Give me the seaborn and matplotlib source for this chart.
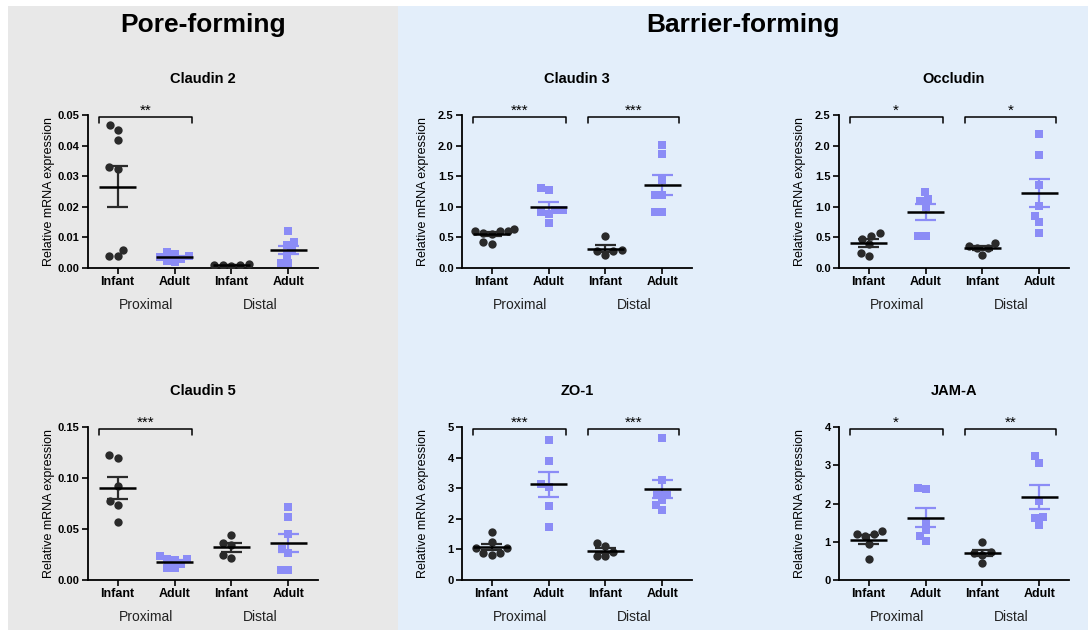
import numpy as np
import pandas as pd
import matplotlib
matplotlib.use("Agg")
import matplotlib.pyplot as plt
from matplotlib.patches import Rectangle
import seaborn as sns

sns.set_theme(style="ticks")
plt.rcParams['font.family'] = ['Liberation Sans', 'DejaVu Sans']
plt.rcParams['text.color'] = 'black'
plt.rcParams['axes.labelcolor'] = 'black'
plt.rcParams['xtick.color'] = 'black'
plt.rcParams['ytick.color'] = 'black'

# ---------------- text ----------------
section_titles = ["Pore-forming", "Barrier-forming"]
panel_titles = ["Claudin 2", "Claudin 3", "Occludin", "Claudin 5", "ZO-1", "JAM-A"]
age_labels = ["Infant", "Adult", "Infant", "Adult"]
region_labels = ["Proximal", "Distal"]
y_label = "Relative mRNA expression"

# ---------------- data (relative mRNA expression) ----------------
cldn2_prox_infant = [0.0451, 0.0466, 0.0417, 0.0331, 0.0325, 0.0060, 0.0039, 0.0039]
cldn2_prox_adult = [0.0052, 0.0046, 0.0040, 0.0035, 0.0030, 0.0022, 0.0018]
cldn2_dist_infant = [0.0009, 0.0011, 0.0010, 0.0012, 0.0008]
cldn2_dist_adult = [0.0120, 0.0085, 0.0076, 0.0058, 0.0041, 0.0017, 0.0017]

cldn3_prox_infant = [0.64, 0.60, 0.58, 0.60, 0.61, 0.40, 0.42, 0.55]
cldn3_prox_adult = [1.30, 1.27, 0.95, 0.92, 0.89, 0.74, 0.95]
cldn3_dist_infant = [0.52, 0.22, 0.30, 0.28, 0.27]
cldn3_dist_adult = [2.01, 1.87, 1.44, 1.20, 1.19, 0.91, 0.92]

ocln_prox_infant = [0.53, 0.48, 0.57, 0.19, 0.25, 0.40]
ocln_prox_adult = [1.245, 1.13, 1.09, 1.00, 0.52, 0.52]
ocln_dist_infant = [0.33, 0.33, 0.41, 0.36, 0.22]
ocln_dist_adult = [2.195, 1.85, 1.354, 1.015, 0.852, 0.753, 0.573]

cldn5_prox_infant = [0.1198, 0.1227, 0.0925, 0.0778, 0.0732, 0.0571]
cldn5_prox_adult = [0.020, 0.021, 0.021, 0.024, 0.012, 0.012, 0.016]
cldn5_dist_infant = [0.044, 0.0341, 0.036, 0.0213, 0.0246]
cldn5_dist_adult = [0.072, 0.062, 0.045, 0.030, 0.026, 0.0095, 0.0095]

zo1_prox_infant = [1.56, 0.87, 1.05, 1.23, 1.05, 0.82, 0.87]
zo1_prox_adult = [4.56, 3.90, 3.04, 3.13, 2.41, 1.73]
zo1_dist_infant = [1.21, 1.11, 0.79, 0.90, 0.79]
zo1_dist_adult = [4.64, 3.26, 2.79, 2.77, 2.60, 2.30, 2.44]

jama_prox_infant = [1.21, 1.15, 1.21, 1.27, 0.54, 0.95]
jama_prox_adult = [2.41, 2.37, 1.52, 1.30, 1.14, 1.01]
jama_dist_infant = [1.00, 0.73, 0.70, 0.66, 0.44]
jama_dist_adult = [3.23, 3.06, 2.06, 1.65, 1.61, 1.45]

y_max = [0.05, 2.5, 2.5, 0.15, 5, 4]
y_step = [0.01, 0.5, 0.5, 0.05, 1, 1]
y_fmt = ["%.2f", "%.1f", "%.1f", "%.2f", "%d", "%d"]
signif_prox = ["**", "***", "*", "***", "***", "*"]
signif_dist = ["", "***", "*", "", "***", "**"]

panels = [
    [cldn2_prox_infant, cldn2_prox_adult, cldn2_dist_infant, cldn2_dist_adult],
    [cldn3_prox_infant, cldn3_prox_adult, cldn3_dist_infant, cldn3_dist_adult],
    [ocln_prox_infant, ocln_prox_adult, ocln_dist_infant, ocln_dist_adult],
    [cldn5_prox_infant, cldn5_prox_adult, cldn5_dist_infant, cldn5_dist_adult],
    [zo1_prox_infant, zo1_prox_adult, zo1_dist_infant, zo1_dist_adult],
    [jama_prox_infant, jama_prox_adult, jama_dist_infant, jama_dist_adult],
]

DARK = "#2a2a2a"
BLUE = "#8b8cf6"
GREY_BG = "#e8e8e8"
BLUE_BG = "#e3eefa"

W, H = 1088, 639
fig = plt.figure(figsize=(W / 100, H / 100), dpi=100)
fig.patch.set_facecolor("white")

# background panels
fig.add_artist(Rectangle((8 / W, 1 - 630 / H), (398 - 8) / W, (630 - 6) / H,
                         transform=fig.transFigure, facecolor=GREY_BG, edgecolor="none", zorder=0))
fig.add_artist(Rectangle((398 / W, 1 - 630 / H), (1088 - 398) / W, (630 - 6) / H,
                         transform=fig.transFigure, facecolor=BLUE_BG, edgecolor="none", zorder=0))

fig.text(203 / W, 1 - 25 / H, section_titles[0], ha="center", va="center",
         fontsize=19, fontweight="bold", color="black")
fig.text(743 / W, 1 - 25 / H, section_titles[1], ha="center", va="center",
         fontsize=19, fontweight="bold", color="black")

col_left = [88, 462, 839]
col_width = 230
row_top = [115, 427]
row_height = 153

keys = ["P-Infant", "P-Adult", "D-Infant", "D-Adult"]

for idx in range(6):
    r, c = divmod(idx, 3)
    left = col_left[c]
    top = row_top[r]
    ax = fig.add_axes([left / W, 1 - (top + row_height) / H, col_width / W, row_height / H])
    ax.set_facecolor("none")
    groups = panels[idx]
    rows = []
    for k, vals in zip(keys, groups):
        age = "Infant" if "Infant" in k else "Adult"
        for v in vals:
            rows.append((k, age, v))
    df = pd.DataFrame(rows, columns=["group", "age", "value"])

    sns.swarmplot(data=df[df.age == "Infant"], x="group", y="value", order=keys,
                  color=DARK, marker="o", size=6.0, ax=ax, zorder=3)
    sns.swarmplot(data=df[df.age == "Adult"], x="group", y="value", order=keys,
                  color=BLUE, marker="s", size=5.4, ax=ax, zorder=3)

    for i, vals in enumerate(groups):
        v = np.asarray(vals, dtype=float)
        m = v.mean()
        se = v.std(ddof=1) / np.sqrt(len(v))
        ec = DARK if i % 2 == 0 else BLUE
        ax.vlines(i, m - se, m + se, color=ec, lw=1.6, zorder=4)
        ax.hlines([m - se, m + se], i - 0.18, i + 0.18, color=ec, lw=1.6, zorder=4)
        ax.hlines(m, i - 0.32, i + 0.32, color="black", lw=1.8, zorder=5)

    ymax = y_max[idx]
    ax.set_ylim(0, ymax)
    ax.set_xlim(-0.52, 3.52)
    ticks = np.arange(0, ymax + y_step[idx] / 2, y_step[idx])
    ax.set_yticks(ticks)
    ax.set_yticklabels([y_fmt[idx] % t for t in ticks], fontweight="bold", fontsize=8)
    ax.set_xticks(range(4))
    ax.set_xticklabels(age_labels, fontweight="bold", fontsize=9)
    ax.set_xlabel("")
    ax.set_ylabel(y_label, fontsize=9, color="black")
    ax.yaxis.set_label_coords(-0.145, 0.5)
    for s in ["top", "right"]:
        ax.spines[s].set_visible(False)
    for s in ["left", "bottom"]:
        ax.spines[s].set_linewidth(1.3)
        ax.spines[s].set_color("black")
    ax.tick_params(direction="out", length=4, width=1.2, colors="black", pad=2)

    # region labels
    trans = ax.get_xaxis_transform()
    ax.text(0.5, -0.24, region_labels[0], transform=trans, ha="center", va="center",
            fontsize=10, color="#222222")
    ax.text(2.5, -0.24, region_labels[1], transform=trans, ha="center", va="center",
            fontsize=10, color="#222222")

    # title
    ax.text(0.5, 1 + 36 / row_height, panel_titles[idx], transform=ax.transAxes,
            ha="center", va="center", fontsize=10.5, fontweight="bold", color="black")

    # significance brackets
    def bracket(x0, x1, txt):
        yb = ymax * 0.99
        d = ymax * 0.045
        ax.plot([x0, x0, x1, x1], [yb - d, yb, yb, yb - d], color="black", lw=1.1,
                clip_on=False, zorder=6)
        ax.text((x0 + x1) / 2, yb - ymax * 0.01, txt, ha="center", va="bottom",
                fontsize=11, zorder=6, color="black")

    if signif_prox[idx]:
        bracket(-0.33, 1.3, signif_prox[idx])
    if signif_dist[idx]:
        bracket(1.7, 3.3, signif_dist[idx])

fig.savefig("out.png", dpi=100)
